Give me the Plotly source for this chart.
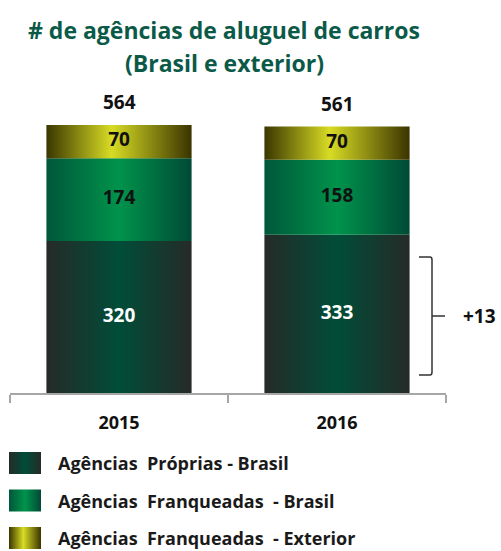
import plotly.graph_objects as go

# ---------------- data ----------------
years = ["2015", "2016"]
series_names = [
    "Agências  Próprias - Brasil",
    "Agências  Franqueadas  - Brasil",
    "Agências  Franqueadas  - Exterior",
]
proprias_br = [320, 333]
franqueadas_br = [174, 158]
franqueadas_ext = [70, 70]
series_values = [proprias_br, franqueadas_br, franqueadas_ext]
title_lines = ["# de agências de aluguel de carros", "(Brasil e exterior)"]

# ---------------- styles ----------------
W, H = 501, 551
FONT = "Open Sans"
gradients = [
    [[0, "#262a28"], [0.5, "#004d38"], [1, "#262a28"]],
    [[0, "#00573a"], [0.5, "#00934b"], [1, "#004a36"]],
    [[0, "#3a3600"], [0.45, "#d8dc24"], [1, "#3a3400"]],
]
label_colors = ["white", "#111111", "#111111"]
half_w = 0.333


def X(p):
    return p / W


def Y(p):
    return 1 - p / H


fig = go.Figure()

# stacked bars drawn as gradient-filled polygons on the data axes
bases = [0] * len(years)
for s, vals in enumerate(series_values):
    for i, v in enumerate(vals):
        b, t = bases[i], bases[i] + v
        fig.add_trace(go.Scatter(
            x=[i - half_w, i + half_w, i + half_w, i - half_w, i - half_w],
            y=[b, b, t, t, b],
            mode="lines", line=dict(width=0), fill="toself",
            fillgradient=dict(type="horizontal", colorscale=gradients[s]),
            hoverinfo="skip", showlegend=False,
        ))
    fig.add_trace(go.Scatter(
        x=list(range(len(years))),
        y=[bases[i] + v / 2 for i, v in enumerate(vals)],
        mode="text", text=[str(v) for v in vals],
        textfont=dict(family=FONT, size=19, color=label_colors[s], weight="bold"),
        hoverinfo="skip", showlegend=False,
    ))
    bases = [bases[i] + v for i, v in enumerate(vals)]

totals = bases
for i, tot in enumerate(totals):
    fig.add_annotation(x=i, y=tot, xref="x", yref="y", text=str(tot),
                       showarrow=False, yshift=23,
                       font=dict(family=FONT, size=19, color="#111111", weight="bold"))

# legend swatches (gradient) on a helper axis
for s, name in enumerate(series_names):
    cy = 463 + 37.5 * s
    fig.add_trace(go.Scatter(
        x=[0, 1, 1, 0, 0], y=[cy - 11, cy - 11, cy + 11, cy + 11, cy - 11],
        xaxis="x2", yaxis="y2",
        mode="lines", line=dict(width=0), fill="toself",
        fillgradient=dict(type="horizontal", colorscale=gradients[s]),
        hoverinfo="skip", showlegend=False,
    ))
    fig.add_annotation(x=X(56), y=Y(cy), xref="paper", yref="paper", text=name,
                       xanchor="left", yanchor="middle", showarrow=False,
                       font=dict(family=FONT, size=18, color="#1a1a1a", weight="bold"))

# title
for k, line in enumerate(title_lines):
    fig.add_annotation(x=X(224), y=Y(30 + 33 * k), xref="paper", yref="paper", text=line,
                       showarrow=False, xanchor="center", yanchor="middle",
                       font=dict(family=FONT, size=23, color="#0b5a48", weight="bold"))

# bracket and delta
bracket = (f"M {X(419)},{Y(257)} L {X(430)},{Y(257)} Q {X(432)},{Y(257)} {X(432)},{Y(260)} "
           f"L {X(432)},{Y(372)} Q {X(432)},{Y(375)} {X(430)},{Y(375)} L {X(419)},{Y(375)} "
           f"M {X(432)},{Y(316)} L {X(445)},{Y(316)}")
fig.add_shape(type="path", path=bracket, xref="paper", yref="paper",
              line=dict(color="#333333", width=1.5))
delta = proprias_br[1] - proprias_br[0]
fig.add_annotation(x=X(461), y=Y(316), xref="paper", yref="paper", text=f"+{delta}",
                   xanchor="left", showarrow=False,
                   font=dict(family=FONT, size=19, color="#111111", weight="bold"))

fig.update_layout(
    width=W, height=H,
    margin=dict(l=0, r=0, t=0, b=0),
    paper_bgcolor="white", plot_bgcolor="white",
    showlegend=False,
    xaxis=dict(domain=[X(10), X(446)], range=[-0.5, len(years) - 0.5],
               tickvals=list(range(len(years))), ticktext=years, ticks="",
               tickfont=dict(family=FONT, size=18, color="#111111", weight="bold"),
               ticklabelstandoff=13,
               showline=True, linecolor="#a6a6a6", linewidth=1.5,
               showgrid=False, zeroline=False, fixedrange=True,
               minor=dict(tickmode="linear", tick0=-0.5, dtick=1, ticks="outside",
                          ticklen=8, tickwidth=1.5, tickcolor="#a6a6a6", showgrid=False)),
    yaxis=dict(domain=[Y(393), Y(95)], range=[0, (393 - 95) / 0.475],
               visible=False, fixedrange=True),
    xaxis2=dict(domain=[X(9), X(41)], range=[0, 1], visible=False, anchor="y2", fixedrange=True),
    yaxis2=dict(domain=[0, Y(440)], range=[551, 440], visible=False, anchor="x2", fixedrange=True),
)

fig.write_html("out.html", config={"displayModeBar": False},
               post_script="document.body.style.margin='0';document.body.style.overflow='hidden';")
